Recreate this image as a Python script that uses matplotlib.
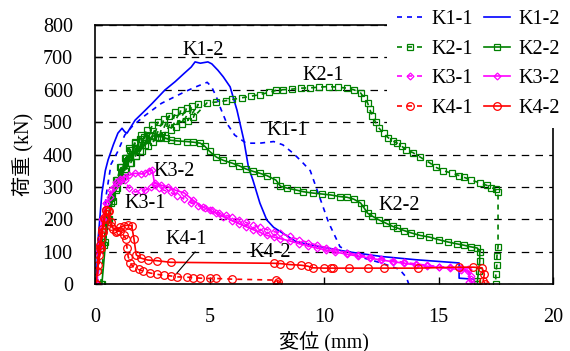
import matplotlib
matplotlib.use('Agg')
import matplotlib.pyplot as plt

plt.rcParams['font.family'] = ['Liberation Serif', 'Noto Sans CJK JP']

# ---- data (displacement mm, load kN) ----
k11_x = [0.1, 0.3, 0.5, 0.7, 1.0, 1.3, 1.6, 2.1, 2.9, 3.9, 4.37, 4.9, 5.1, 5.3, 5.5, 5.75, 6.1,
         6.6, 7.2, 7.8, 8.2, 8.65, 9.0, 9.4, 9.8, 10.2, 10.7, 11.5, 12.5, 13.3, 13.6, 13.7]
k11_y = [0, 150, 280, 370, 410, 460, 485, 516, 558, 593, 608, 623, 608, 578, 540, 497, 460,
         435, 435, 440, 430, 404, 380, 350, 270, 190, 115, 85, 65, 45, 20, 0]

k12_x = [0.05, 0.15, 0.3, 0.45, 0.57, 0.8, 1.0, 1.18, 1.3, 1.4, 1.75, 2.1, 2.5, 3.05, 3.5, 3.9,
         4.2, 4.37, 4.6, 4.93, 5.1, 5.37, 5.6, 5.9, 6.2, 6.5, 6.7, 6.9, 7.2, 7.5, 7.8, 8.2, 8.8,
         9.5, 11.0, 12.5, 14.0, 15.9, 15.9, 16.5]
k12_y = [0, 150, 280, 350, 383, 430, 466, 481, 470, 466, 506, 530, 558, 599, 625, 651,
         670, 686, 682, 686, 680, 660, 640, 609, 537, 444, 361, 320, 250, 198, 175, 157, 130,
         120, 100, 85, 75, 65, 18, 15]

k21_x = [0.25, 0.5, 0.38, 0.7, 0.55, 0.9, 0.72, 1.1, 0.92, 1.3, 1.12, 1.5, 1.3, 1.75, 1.55, 2.0,
         1.8, 2.25, 2.05, 2.5, 2.3, 2.75, 2.55, 3.0, 2.8, 3.25, 3.05, 3.5, 3.3, 3.75, 3.55, 4.0,
         3.8, 4.25, 4.05, 4.5, 4.3, 4.9, 5.3, 5.7, 6.0, 6.4, 6.8, 7.2, 7.6, 7.9, 8.2, 8.6, 9.0,
         9.4, 9.8, 10.2, 10.6, 11.0, 11.3, 11.6, 11.75, 11.9, 12.0, 12.1, 12.25, 12.4, 12.6,
         12.8, 13.0, 13.2, 13.4, 13.6, 13.9, 14.2, 14.6, 14.9, 15.2, 15.6, 15.9, 16.1, 16.4,
         16.8, 17.1, 17.3, 17.5, 17.6, 17.6, 17.55, 17.55, 17.5, 17.5]
k21_y = [0, 200, 120, 270, 190, 320, 250, 360, 290, 390, 320, 420, 350, 440, 375, 460,
         395, 475, 410, 490, 425, 500, 440, 510, 450, 520, 460, 530, 475, 538, 485, 545,
         495, 550, 505, 555, 515, 560, 562, 566, 570, 575, 580, 585, 592, 598, 600, 602, 605,
         606, 608, 610, 608, 605, 600, 590, 575, 560, 540, 520, 500, 482, 465,
         452, 442, 435, 425, 415, 405, 392, 375, 360, 350, 342, 335, 330, 322,
         312, 305, 298, 292, 285, 115, 85, 60, 30, 0]

k22_x = [0.3, 0.55, 0.42, 0.75, 0.6, 0.95, 0.78, 1.15, 0.97, 1.35, 1.17, 1.55, 1.37, 1.75, 1.57,
         1.95, 1.77, 2.15, 1.97, 2.35, 2.2, 2.5, 2.7, 2.9, 3.1, 3.3, 3.6, 4.0, 4.3, 4.6, 4.8, 5.0,
         5.3, 5.6, 6.0, 6.3, 6.6, 6.9, 7.2, 7.5, 7.9, 8.1, 8.4, 8.8, 9.1, 9.5, 9.9, 10.3, 10.7,
         11.0, 11.3, 11.6, 11.75, 11.9, 12.1, 12.4, 12.7, 13.0, 13.2, 13.5, 13.8, 14.2, 14.6,
         15.0, 15.4, 15.8, 16.1, 16.4, 16.7, 16.8, 16.8, 16.75, 16.7, 16.7]
k22_y = [0, 200, 130, 270, 200, 320, 255, 360, 295, 390, 330, 415, 355, 435, 375,
         448, 395, 455, 410, 460, 430, 458, 455, 455, 450, 444, 442, 440, 438, 435, 425, 410,
         392, 382, 373, 365, 355, 348, 342, 335, 321, 302, 296, 290, 285, 281, 278, 275, 270,
         268, 262, 250, 235, 219, 210, 198, 188, 178, 173, 165, 158, 150, 145,
         137, 130, 124, 120, 115, 111, 100, 70, 40, 10, 0]

k31_x = [0.1, 0.2, 0.35, 0.5, 0.7, 0.9, 1.1, 1.3, 1.5, 1.75, 2.0, 2.2, 2.45, 2.6, 2.8, 3.0, 3.3,
         3.6, 3.9, 4.2, 4.5, 4.8, 5.1, 5.4, 5.7, 6.0, 6.3, 6.6, 6.9, 7.2, 7.5, 7.8, 8.1, 8.5,
         8.9, 9.3, 9.7, 10.1, 10.5, 11.0, 11.5, 12.0, 12.5, 13.0, 13.5, 14.0, 14.5, 15.0,
         15.5, 16.0, 16.3, 16.4, 16.35]
k31_y = [0, 120, 200, 250, 290, 315, 325, 320, 295, 284, 288, 290, 300, 305, 295, 290, 283,
         272, 262, 250, 242, 235, 228, 220, 213, 206, 198, 190, 182, 175, 168, 162, 157, 147,
         137, 128, 120, 112, 105, 97, 90, 84, 78, 72, 67, 62, 58, 54,
         51, 48, 45, 25, 5]

k32_x = [0.1, 0.15, 0.3, 0.5, 0.65, 0.85, 1.0, 1.15, 1.3, 1.5, 1.75, 2.0, 2.18, 2.35, 2.5, 2.6,
         2.9, 3.2, 3.5, 3.9, 4.3, 4.7, 5.0, 5.3, 5.6, 6.0, 6.3, 6.6, 6.9, 7.2, 7.5, 7.8, 8.1,
         8.5, 8.9, 9.3, 9.7, 10.1, 10.5, 11.0, 11.5, 12.0, 12.5, 13.0, 13.5, 14.0, 14.5, 15.0,
         15.5, 16.0, 16.3, 16.4, 16.5]
k32_y = [0, 100, 200, 250, 270, 300, 311, 322, 330, 336, 342, 340, 342, 350, 352, 311,
         305, 300, 290, 281, 258, 238, 228, 218, 208, 195, 186, 177, 168, 160, 150, 145, 140,
         133, 125, 118, 111, 105, 99, 92, 86, 80, 74, 69, 64, 59, 55, 51,
         48, 44, 40, 15, 0]

k41_x = [0.05, 0.25, 0.1, 0.33, 0.18, 0.42, 0.27, 0.5, 0.55, 0.7, 0.9, 1.1, 1.25, 1.35, 1.4,
         1.45, 1.55, 1.66, 1.9, 2.1, 2.4, 2.7, 3.0, 3.3, 3.6, 4.0, 4.3, 4.6, 5.0, 5.3, 6.0, 7.9,
         8.0, 7.95]
k41_y = [0, 110, 40, 160, 90, 200, 140, 228, 225, 180, 160, 165, 150, 140, 110,
         84, 65, 53, 45, 40, 34, 30, 27, 25, 22, 21, 20, 18, 17, 17, 15, 12,
         5, 0]

k42_x = [0.05, 0.2, 0.12, 0.3, 0.2, 0.4, 0.3, 0.5, 0.6, 0.7, 0.8, 0.95, 1.1, 1.25, 1.45, 1.6,
         1.7, 1.8, 2.0, 2.3, 2.7, 3.3, 7.8, 8.1, 8.5, 9.0, 9.3, 9.5, 10.0, 10.3, 10.4, 11.1, 11.9,
         12.6, 14.1, 15.9, 16.5, 16.9, 17.0, 16.95, 17.05]
k42_y = [0, 120, 60, 170, 110, 205, 160, 228, 225, 190, 170, 165, 175, 180, 182, 180,
         140, 90, 80, 74, 72, 67, 64, 63, 60, 58, 55, 50, 49, 49, 49, 49, 49,
         49, 49, 52, 52, 50, 30, 10, 0]

series = [
    ('K1-1', k11_x, k11_y, '#0000FF', (0, (3, 3)), 'None'),
    ('K1-2', k12_x, k12_y, '#0000FF', '-', 'None'),
    ('K2-1', k21_x, k21_y, '#008000', (0, (3, 3)), 's'),
    ('K2-2', k22_x, k22_y, '#008000', '-', 's'),
    ('K3-1', k31_x, k31_y, '#FF00FF', (0, (3, 3)), 'D'),
    ('K3-2', k32_x, k32_y, '#FF00FF', '-', 'D'),
    ('K4-1', k41_x, k41_y, '#FF0000', (0, (3, 3)), 'o'),
    ('K4-2', k42_x, k42_y, '#FF0000', '-', 'o'),
]
msize = {'None': 0, 's': 5, 'D': 3.5, 'o': 5.5}

fig = plt.figure(figsize=(5.7, 3.51), dpi=100)
ax = fig.add_axes([95/570, 1-284/351, (553-95)/570, (284-25)/351])

lines = {}
for name, xs, ys, c, ls, mk in series:
    ln, = ax.plot(xs, ys, color=c, linestyle=ls, linewidth=1.2, marker=mk,
                  markersize=msize[mk], markerfacecolor='none', markeredgecolor=c,
                  markeredgewidth=0.9, label=name)
    lines[name] = ln

ax.set_xlim(0, 20)
ax.set_ylim(0, 800)
ax.set_xticks([0, 5, 10, 15, 20])
ax.set_yticks(range(0, 801, 100))
ax.yaxis.grid(True, color='black', linestyle=(0, (6, 5)), linewidth=0.9)
ax.set_axisbelow(True)
ax.tick_params(direction='in', labelsize=14.5, length=5, width=1, color='black')
ax.tick_params(axis='x', pad=17)
ax.tick_params(axis='y', pad=16)
for sp in ax.spines.values():
    sp.set_linewidth(1.2)

ax.set_xlabel('変位 (mm)', fontsize=14.5, labelpad=3)
ax.set_ylabel('荷重 (kN)', fontsize=14.5, labelpad=6)

# curve labels
lab_fs = 14.5
ax.text(4.72, 722, 'K1-2', fontsize=lab_fs, ha='center', va='center')
ax.text(9.96, 645, 'K2-1', fontsize=lab_fs, ha='center', va='center')
ax.text(8.38, 475, 'K1-1', fontsize=lab_fs, ha='center', va='center')
ax.text(3.45, 346, 'K3-2', fontsize=lab_fs, ha='center', va='center')
ax.text(2.18, 250, 'K3-1', fontsize=lab_fs, ha='center', va='center')
ax.text(3.97, 136, 'K4-1', fontsize=lab_fs, ha='center', va='center')
ax.text(7.64, 96, 'K4-2', fontsize=lab_fs, ha='center', va='center')
ax.text(13.3, 244, 'K2-2', fontsize=lab_fs, ha='center', va='center')
ax.plot([4.37, 3.58], [99, 34], color='black', linewidth=0.8)

# legend filled column-wise, so order gives rows K1-1 K1-2 / K2-1 K2-2 ...
order = ['K1-1', 'K2-1', 'K3-1', 'K4-1', 'K1-2', 'K2-2', 'K3-2', 'K4-2']
fig.legend([lines[n] for n in order], order, ncol=2, loc='upper right',
           bbox_to_anchor=(1.0, 1.0), fontsize=14.5, frameon=True,
           fancybox=False, framealpha=1, facecolor='white', edgecolor='none',
           handlelength=1.3, handletextpad=0.4, columnspacing=0.55,
           labelspacing=0.52, borderpad=0.5, borderaxespad=0, numpoints=1)

fig.savefig('out.png', dpi=100)
